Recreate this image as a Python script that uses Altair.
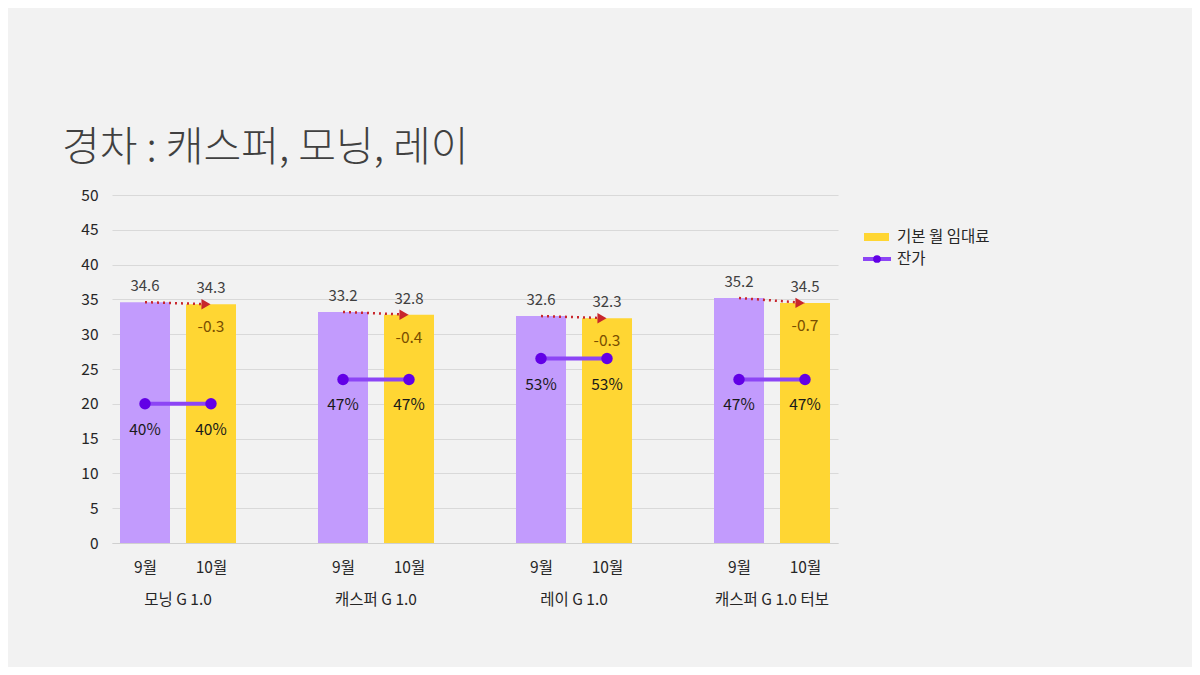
import altair as alt
import pandas as pd

# ---- data ----
groups = ["모닝 G 1.0", "캐스퍼 G 1.0", "레이 G 1.0", "캐스퍼 G 1.0 터보"]
months = ["9월", "10월"]
rent_sep = [34.6, 33.2, 32.6, 35.2]
rent_oct = [34.3, 32.8, 32.3, 34.5]
rent_diff = ["-0.3", "-0.4", "-0.3", "-0.7"]
resid_sep = [40, 47, 53, 47]
resid_oct = [40, 47, 53, 47]
legend_labels = ["기본 월 임대료", "잔가"]
title_text = "경차 : 캐스퍼, 모닝, 레이"

FONT = "Noto Sans CJK KR"
PURPLE_BAR = "#c29bfd"
YELLOW_BAR = "#ffd633"
LINE_PURPLE = "#8c45f5"
DOT_PURPLE = "#6200e6"
ARROW_RED = "#c8262c"
DIFF_COLOR = "#7a4e00"

W, H = 726, 348

bars = []
for gi, g in enumerate(groups):
    bars.append({"group": g, "month": months[0], "pos": gi * 3, "value": rent_sep[gi], "pct": resid_sep[gi]})
    bars.append({"group": g, "month": months[1], "pos": gi * 3 + 1, "value": rent_oct[gi], "pct": resid_oct[gi]})
df_bars = pd.DataFrame(bars)

df_arrow = pd.DataFrame({
    "group": groups,
    "p0": [gi * 3 for gi in range(len(groups))],
    "p1": [gi * 3 + 1 for gi in range(len(groups))],
    "v0": rent_sep,
    "v1": rent_oct,
    "diff": rent_diff,
})
df_groups = pd.DataFrame({"group": groups, "center": [gi * 3 + 0.5 for gi in range(len(groups))]})
df_leg = pd.DataFrame({"label": legend_labels})

xscale = alt.Scale(domain=[-0.5, 10.5], nice=False, zero=False, padding=0)
xaxis = alt.Axis(
    values=[0, 1, 3, 4, 6, 7, 9, 10],
    labelExpr="datum.value % 3 == 0 ? '9월' : '10월'",
    title=None, grid=False, ticks=False,
    domainColor="#d0d0d0", domainWidth=1,
    labelFontSize=15.5, labelColor="#262626", labelPadding=17, labelFont=FONT,
)
yscale = alt.Scale(domain=[0, 50], nice=False, zero=True, padding=0)
yaxis = alt.Axis(
    tickCount=10, title=None, grid=True, format="d",
    gridColor="#d9d9d9", domain=False, ticks=False, labelFontSize=15.5, labelColor="#262626",
    labelPadding=14, labelFont=FONT, labelOverlap=False,
)

def X(field):
    return alt.X(field, scale=xscale, axis=xaxis)

def Y(field):
    return alt.Y(field, scale=yscale, axis=yaxis)

base = alt.Chart(df_bars)

bar_layer = base.mark_bar(size=50).encode(
    x=X("pos:Q"),
    y=Y("value:Q"),
    color=alt.Color("month:N", scale=alt.Scale(domain=months, range=[PURPLE_BAR, YELLOW_BAR]), legend=None),
)

top_labels = base.mark_text(dy=-16, fontSize=15, color="#404040", font=FONT).encode(
    x=X("pos:Q"), y=Y("value:Q"), text=alt.Text("value:Q", format=".1f")
)

arrow_line = alt.Chart(df_arrow).mark_rule(color=ARROW_RED, strokeWidth=2.5, strokeDash=[2, 4]).encode(
    x=X("p0:Q"), y=Y("v0:Q"), x2="p1:Q", y2="v1:Q",
)
arrow_head = alt.Chart(df_arrow).mark_point(
    shape="triangle-right", filled=True, color=ARROW_RED, size=110, opacity=1, xOffset=-5
).encode(x=X("p1:Q"), y=Y("v1:Q"))

diff_labels = alt.Chart(df_arrow).mark_text(dy=23, fontSize=15.5, color=DIFF_COLOR, font=FONT).encode(
    x=X("p1:Q"), y=Y("v1:Q"), text="diff:N"
)

group_labels = alt.Chart(df_groups).mark_text(fontSize=15.5, color="#262626", font=FONT).encode(
    x=X("center:Q"), y=alt.value(H + 57), text="group:N"
)

# 잔가 (%) drawn on a secondary 0-100 scale that maps onto the 0-50 axis
resid_base = base.transform_calculate(ry="datum.pct / 2", pctlabel="datum.pct + '%'")
resid_line = resid_base.mark_line(color=LINE_PURPLE, strokeWidth=4).encode(
    x=X("pos:Q"), y=Y("ry:Q"), detail="group:N"
)
resid_dot = resid_base.mark_point(filled=True, color=DOT_PURPLE, size=130, opacity=1, shape="circle").encode(
    x=X("pos:Q"), y=Y("ry:Q")
)
resid_text = resid_base.mark_text(dy=26, fontSize=15.5, color="#1a1a1a", font=FONT).encode(
    x=X("pos:Q"), y=Y("ry:Q"), text="pctlabel:N"
)

# legend (drawn manually)
leg0 = alt.Chart(df_leg).transform_filter(alt.datum.label == legend_labels[0])
leg1 = alt.Chart(df_leg).transform_filter(alt.datum.label == legend_labels[1])
leg_rect = leg0.mark_rect(color=YELLOW_BAR).encode(
    x=alt.value(752), x2=alt.value(777), y=alt.value(38), y2=alt.value(46)
)
leg_line = leg1.mark_rule(color=LINE_PURPLE, strokeWidth=4).encode(
    x=alt.value(751), x2=alt.value(779), y=alt.value(64)
)
leg_dot = leg1.mark_point(filled=True, color=DOT_PURPLE, size=60, opacity=1, shape="circle").encode(
    x=alt.value(765), y=alt.value(64)
)
leg_text0 = leg0.mark_text(align="left", baseline="middle", fontSize=15.5, color="#262626", font=FONT).encode(
    x=alt.value(785), y=alt.value(42), text="label:N"
)
leg_text1 = leg1.mark_text(align="left", baseline="middle", fontSize=15.5, color="#262626", font=FONT).encode(
    x=alt.value(785), y=alt.value(64), text="label:N"
)

chart = alt.layer(
    bar_layer, top_labels, arrow_line, arrow_head, diff_labels, group_labels,
    resid_line, resid_dot, resid_text,
    leg_rect, leg_line, leg_dot, leg_text0, leg_text1,
).properties(
    width=W, height=H,
    autosize=alt.AutoSizeParams(type="none"),
    padding={"left": 104, "top": 187, "right": 354, "bottom": 124},
    background="#f2f2f2",
    title=alt.TitleParams(
        text=title_text, fontSize=41, font=FONT, fontWeight=300, color="#404040",
        anchor="start", frame="group", dx=-50, offset=18,
    ),
).configure_view(stroke=None)

chart.save("out.html", embed_options={"renderer": "svg", "actions": False})
